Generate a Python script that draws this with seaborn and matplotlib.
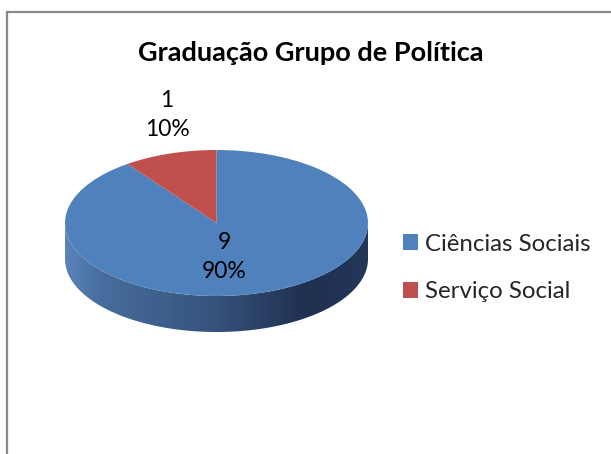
import matplotlib.pyplot as plt
import matplotlib.transforms as mtransforms
from matplotlib.colors import LinearSegmentedColormap
from matplotlib.patches import Polygon
import numpy as np
import seaborn as sns

# data
categories = ['Ciências Sociais', 'Serviço Social']
counts = [9, 1]
title = 'Graduação Grupo de Política'

sns.set_theme(style='white')
plt.rcParams['font.family'] = ['Lato', 'DejaVu Sans']

#%% colours / layout (pixel units, y up)
top_colors = ['#4F81BD', '#C0504D']
W, H = 611, 454
cx, cy = 216.5, H - 223   # centre of pie top
rx, ry = 151.5, 73        # ellipse radii
depth = 36                # thickness of the 3d side

fig = plt.figure(figsize=(W / 100, H / 100), dpi=100, facecolor='white')
ax = fig.add_axes([0, 0, 1, 1])

#%% side of the pie (front half), shaded with a horizontal gradient
th = np.linspace(np.pi, 2 * np.pi, 200)
ex = cx + rx * np.cos(th)
ey = cy + ry * np.sin(th)
side_xy = np.vstack([np.column_stack([ex, ey]),
                     np.column_stack([ex[::-1], ey[::-1] - depth])])
side = Polygon(side_xy, closed=True, facecolor='none', edgecolor='none')
ax.add_patch(side)
side_cmap = LinearSegmentedColormap.from_list(
    'side', [(0, '#5a84b9'), (0.12, '#486d9e'), (0.5, '#35527b'),
             (0.8, '#1f3050'), (1, '#233759')])
grad = np.linspace(0, 1, 256).reshape(1, -1)
im = ax.imshow(grad, cmap=side_cmap, aspect='auto',
               extent=[cx - rx, cx + rx, cy - ry - depth, cy + 2], zorder=1)
im.set_clip_path(side)

#%% top face: pie drawn then squashed into an ellipse
wedges, _ = ax.pie(counts, colors=top_colors, startangle=90, counterclock=False,
                   wedgeprops=dict(linewidth=0))
squash = mtransforms.Affine2D().scale(rx, ry).translate(cx, cy) + ax.transData
for w in wedges:
    w.set_transform(squash)
    w.set_zorder(2)

ax.set_aspect('auto')
ax.set_xlim(0, W)
ax.set_ylim(0, H)
ax.axis('off')

#%% data labels
total = sum(counts)
label_pos = [(224, H - 257), (167, H - 115)]
for (x, y), n in zip(label_pos, counts):
    ax.text(x, y, f'{n}\n{n / total * 100:.0f}%', ha='center', va='center',
            fontsize=16.5, color='black', linespacing=1.45, zorder=3)

ax.text(311, H - 53, title, ha='center', va='center', fontsize=19.5,
        fontweight='bold', color='black')

#%% legend
ax.legend(wedges, categories, loc='center left', bbox_to_anchor=(393 / W, 1 - 268 / H),
          frameon=False, fontsize=17.3, handlelength=0.65, handleheight=0.65,
          handletextpad=0.3, labelspacing=1.1, borderaxespad=0)

#%% chart border
ax.plot([7, 7, W], [0, H - 12, H - 12], color='#898989', lw=1.6,
        solid_joinstyle='miter', clip_on=False)

plt.savefig('out.png', dpi=100, facecolor='white')
